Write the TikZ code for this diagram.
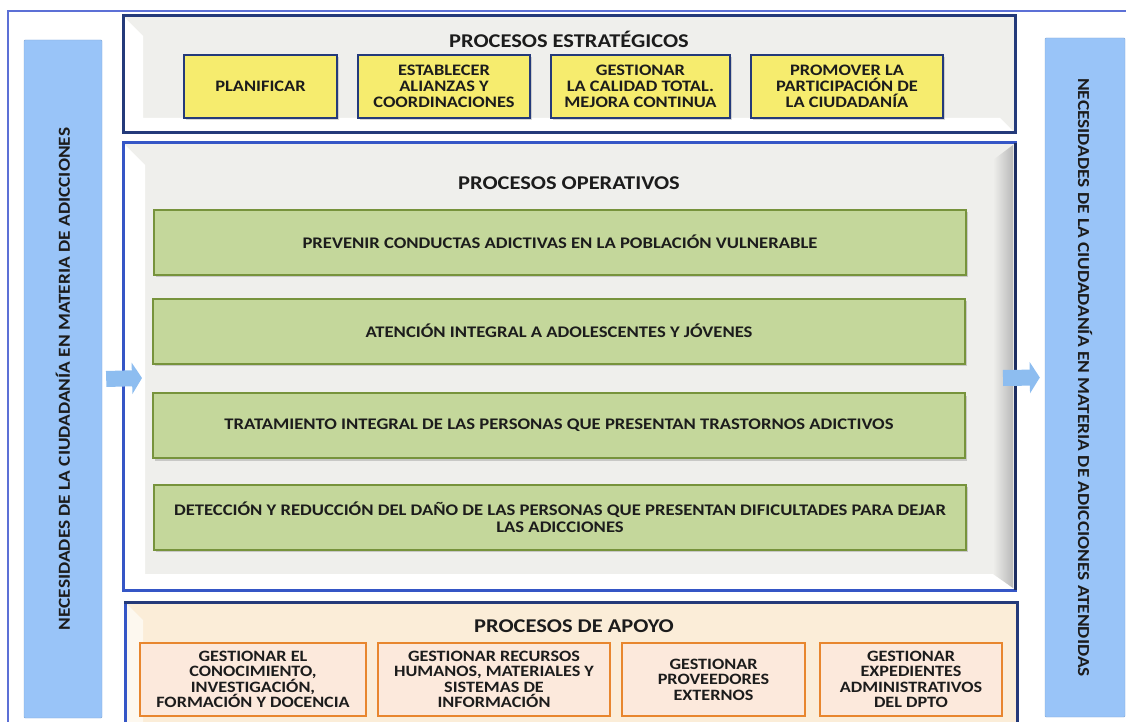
\documentclass[tikz,border=0pt]{standalone}
\usepackage{fontspec}
\setmainfont[FakeStretch=1.15]{Carlito}
\usetikzlibrary{shadows,arrows.meta}
\definecolor{navy}{HTML}{243A7A}
\definecolor{rblue}{HTML}{3556C6}
\definecolor{framebl}{HTML}{5C70D6}
\definecolor{sidebl}{HTML}{99C4F8}
\definecolor{arrbl}{HTML}{8DBDF0}
\definecolor{yel}{HTML}{F6EC6E}
\definecolor{grn}{HTML}{C4D79B}
\definecolor{grnline}{HTML}{77933C}
\definecolor{org}{HTML}{FCE9DC}
\definecolor{orgline}{HTML}{E8862E}
\definecolor{beige}{HTML}{FBEDD8}
\definecolor{lgray}{HTML}{EFEFEC}
\definecolor{txt}{HTML}{1C1C1C}
\begin{document}
\begin{tikzpicture}[x=1pt,y=-1pt,
    every node/.style={text=txt, align=center, font=\bfseries},
    title/.style={font=\fontsize{19.5}{22}\selectfont\bfseries},
    ybox/.style={draw=navy, line width=2.5pt, fill=yel, minimum height=63pt,
        inner sep=2pt, font=\fontsize{16}{16}\selectfont\bfseries,
        drop shadow={shadow xshift=2pt, shadow yshift=-2pt, opacity=.3}},
    gbox/.style={draw=grnline, line width=2pt, fill=grn, minimum width=812pt,
        minimum height=65pt, inner sep=2pt, font=\fontsize{16.2}{17}\selectfont\bfseries,
        drop shadow={shadow xshift=2pt, shadow yshift=-2.5pt, opacity=.35}},
    obox/.style={draw=orgline, line width=2.5pt, fill=org, minimum height=73pt,
        inner sep=2pt, font=\fontsize{15.8}{15.5}\selectfont\bfseries},
    sidebar/.style={fill=sidebl, draw=sidebl!85!black, line width=.4pt,
        rounded corners=1pt},
    sidetext/.style={font=\fontsize{16.8}{18}\selectfont\bfseries},
    bigarrow/.style={draw=arrbl, line width=16pt, -{Triangle[length=10pt,width=31pt]}}]
    \useasboundingbox (0,0) rectangle (1126,722);
    \clip (0,0) rectangle (1126,722);

    % outer frame
    \draw[framebl, line width=1.2pt] (8,730) -- (8,11) -- (1130,11);

    % side bars
    \node[sidebar, minimum width=78pt, minimum height=678pt] (lbar) at (63,379) {};
    \node[sidetext, rotate=90] at (lbar.center)
        {NECESIDADES DE LA CIUDADANÍA EN MATERIA DE ADICCIONES};
    \node[sidebar, minimum width=80pt, minimum height=679pt] (rbar) at (1085,377.5) {};
    \node[sidetext, rotate=-90] at (rbar.center)
        {NECESIDADES DE LA CIUDADANÍA EN MATERIA DE ADICCIONES ATENDIDAS};

    % procesos estrategicos
    \fill[lgray] (123,16) rectangle (1015,133);
    \fill[white] (123,16) -- (143,36) -- (143,118) -- (1000,118) -- (1015,133) -- (123,133) -- cycle;
    \draw[navy, line width=3pt] (123,16) rectangle (1015,133);
    \node[title] (tstrat) at (569,39) {PROCESOS ESTRATÉGICOS};
    \node[ybox, minimum width=153pt] (plan) at (260.5,86.5) {PLANIFICAR};
    \node[ybox, minimum width=172pt] (alian) at (444,86.5) {ESTABLECER\\ALIANZAS Y\\COORDINACIONES};
    \node[ybox, minimum width=179pt] (calid) at (640.5,86.5) {GESTIONAR\\LA CALIDAD TOTAL.\\MEJORA CONTINUA};
    \node[ybox, minimum width=192pt] (partic) at (847,86.5) {PROMOVER LA\\PARTICIPACIÓN DE\\LA CIUDADANÍA};

    % procesos operativos
    \fill[lgray] (123,143) rectangle (1015,590);
    \fill[white] (123,143) -- (145,165) -- (145,574) -- (995,574) -- (1015,590) -- (123,590) -- cycle;
    \shade[left color=lgray, right color=gray!55] (993,160) -- (1013,145) -- (1013,588) -- (993,574) -- cycle;
    \draw[rblue, line width=3pt] (123,143) rectangle (1015,590);
    \draw[navy!80!black, line width=3pt] (1015,143) -- (1015,590);
    \node[title] (toper) at (569,183) {PROCESOS OPERATIVOS};
    \node[gbox] (prev) at (560,242) {PREVENIR CONDUCTAS ADICTIVAS EN LA POBLACIÓN VULNERABLE};
    \node[gbox] (aten) at (559,331) {ATENCIÓN INTEGRAL A ADOLESCENTES Y JÓVENES};
    \node[gbox] (trat) at (559,425.5) {TRATAMIENTO INTEGRAL DE LAS PERSONAS QUE PRESENTAN TRASTORNOS ADICTIVOS};
    \node[gbox] (detec) at (560,517) {DETECCIÓN Y REDUCCIÓN DEL DAÑO DE LAS PERSONAS QUE PRESENTAN DIFICULTADES PARA DEJAR\\LAS ADICCIONES};

    % procesos de apoyo
    \fill[beige] (125,602) rectangle (1017,730);
    \fill[beige!40!white] (125,602) -- (143,620) -- (143,730) -- (125,730) -- cycle;
    \draw[navy, line width=3pt] (125,730) -- (125,602) -- (1017,602) -- (1017,730);
    \draw[rblue, line width=3pt] (125,730) -- (125,604);
    \node[title] (tapoyo) at (574,626) {PROCESOS DE APOYO};
    \node[obox, minimum width=226pt] (conoc) at (253,679.5) {GESTIONAR EL\\CONOCIMIENTO,\\INVESTIGACIÓN,\\FORMACIÓN Y DOCENCIA};
    \node[obox, minimum width=232pt] (recur) at (494,679.5) {GESTIONAR RECURSOS\\HUMANOS, MATERIALES Y\\SISTEMAS DE\\INFORMACIÓN};
    \node[obox, minimum width=183pt] (prov) at (713.5,679.5) {GESTIONAR\\PROVEEDORES\\EXTERNOS};
    \node[obox, minimum width=182pt] (exped) at (911,679.5) {GESTIONAR\\EXPEDIENTES\\ADMINISTRATIVOS\\DEL DPTO};

    % flechas
    \coordinate (lhead) at (142,378);
    \coordinate (rtail) at (1003,378);
    \draw[bigarrow] ([xshift=4pt]lbar.east) -- (lhead);
    \draw[bigarrow] (rtail) -- ([xshift=-5pt]rbar.west);
\end{tikzpicture}
\end{document}
